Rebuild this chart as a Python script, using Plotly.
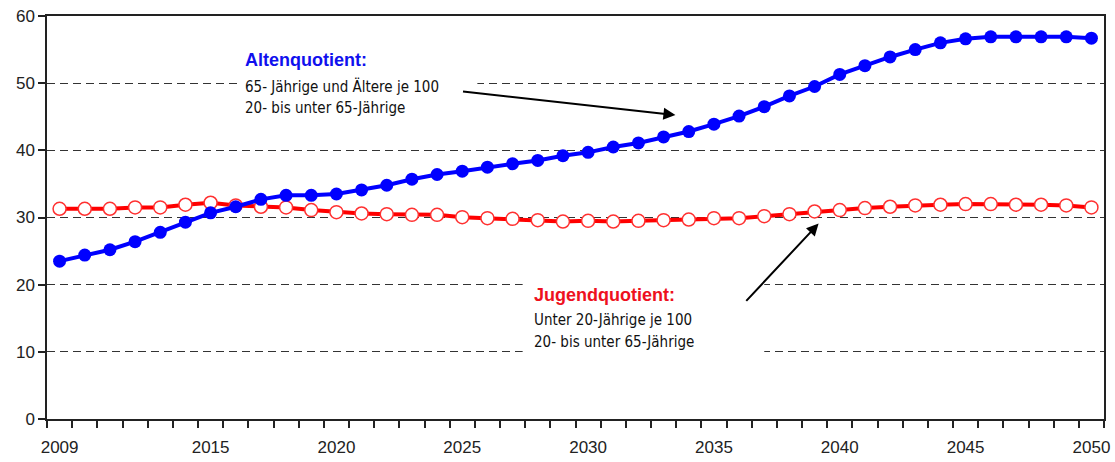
import plotly.graph_objects as go

years = list(range(2009, 2051))
altenquotient = [23.5, 24.4, 25.2, 26.4, 27.8, 29.3, 30.7, 31.6, 32.7, 33.3,
                 33.3, 33.5, 34.1, 34.8, 35.7, 36.4, 36.9, 37.5, 38.0, 38.5,
                 39.2, 39.7, 40.5, 41.1, 42.0, 42.8, 43.9, 45.1, 46.5, 48.1,
                 49.5, 51.3, 52.6, 53.9, 55.0, 56.0, 56.6, 56.9, 56.9, 56.9,
                 56.9, 56.7]
jugendquotient = [31.3, 31.3, 31.3, 31.5, 31.5, 31.9, 32.2, 31.8, 31.6, 31.5,
                  31.1, 30.8, 30.6, 30.5, 30.4, 30.4, 30.05, 29.9, 29.8, 29.6,
                  29.4, 29.5, 29.4, 29.5, 29.6, 29.7, 29.9, 29.9, 30.2, 30.5,
                  30.9, 31.1, 31.4, 31.6, 31.8, 31.9, 32.0, 32.0, 31.9, 31.9,
                  31.8, 31.5]
xtick_vals = [2009, 2015, 2020, 2025, 2030, 2035, 2040, 2045, 2050]
ytick_vals = [0, 10, 20, 30, 40, 50, 60]

NARROW = "Liberation Sans Narrow, DejaVu Sans Condensed, Arial Narrow, sans-serif"
SANS = "Liberation Sans, Arial, sans-serif"

fig = go.Figure()
fig.add_trace(go.Scatter(
    x=years, y=jugendquotient, mode="lines+markers",
    line=dict(color="#ff0000", width=4),
    marker=dict(size=13, color="white", line=dict(color="#ff3030", width=1.5)),
    showlegend=False))
fig.add_trace(go.Scatter(
    x=years, y=altenquotient, mode="lines+markers",
    line=dict(color="#0000ff", width=4),
    marker=dict(size=13, color="#0000ff"),
    showlegend=False))

# white boxes behind the annotation text (they interrupt the gridlines)
fig.add_shape(type="rect", x0=2016.15, x1=2025.6, y0=44.7, y1=55.7,
              fillcolor="white", line=dict(width=0), layer="above")
fig.add_shape(type="rect", x0=2027.4, x1=2037.0, y0=9.5, y1=20.6,
              fillcolor="white", line=dict(width=0), layer="above")

def label(x, y, text, color="#111111", size=15, family=NARROW):
    fig.add_annotation(x=x, y=y, text=text, showarrow=False, xanchor="left",
                       yanchor="middle", font=dict(color=color, size=size, family=family))

label(2016.27, 53.5, "<b>Altenquotient:</b>", color="#1010ee", size=18, family=SANS)
label(2016.27, 49.5, "65- Jährige und Ältere je 100")
label(2016.27, 46.3, "20- bis unter 65-Jährige")
label(2027.77, 18.4, "<b>Jugendquotient:</b>", color="#ee1020", size=18, family=SANS)
label(2027.77, 14.7, "Unter 20-Jährige je 100")
label(2027.77, 11.5, "20- bis unter 65-Jährige")

fig.add_annotation(x=2033.47, y=45.25, ax=2024.97, ay=48.8, axref="x", ayref="y",
                   text="", showarrow=True, arrowhead=2, arrowsize=1.2,
                   arrowwidth=2, arrowcolor="black")
fig.add_annotation(x=2039.16, y=29.1, ax=2036.23, ay=17.36, axref="x", ayref="y",
                   text="", showarrow=True, arrowhead=2, arrowsize=1.2,
                   arrowwidth=2, arrowcolor="black")

fig.update_xaxes(
    range=[2008.5, 2050.5], tickmode="array", tickvals=xtick_vals,
    ticks="", ticklabelstandoff=12, showgrid=False, zeroline=False,
    showline=True, linecolor="#222222", linewidth=1.5, mirror=True,
    tickfont=dict(family=SANS, size=17, color="#222222"),
    minor=dict(tickmode="linear", tick0=2008.5, dtick=1, ticks="outside",
               ticklen=7, tickwidth=1.5, tickcolor="#222222", showgrid=False))
fig.update_yaxes(
    range=[0, 60], tickmode="array", tickvals=ytick_vals,
    ticks="outside", ticklen=7, tickwidth=1.5, tickcolor="#222222",
    showgrid=True, gridcolor="#333333", gridwidth=1, griddash="8px,5px",
    zeroline=False, showline=True, linecolor="#222222", linewidth=1.5, mirror=True,
    tickfont=dict(family=SANS, size=17, color="#222222"))

fig.update_layout(
    width=1115, height=462, margin=dict(l=47, r=5, t=16, b=39),
    plot_bgcolor="white", paper_bgcolor="white")

fig.write_html("out.html", config={"displayModeBar": False},
               post_script="document.body.style.margin='0';")
